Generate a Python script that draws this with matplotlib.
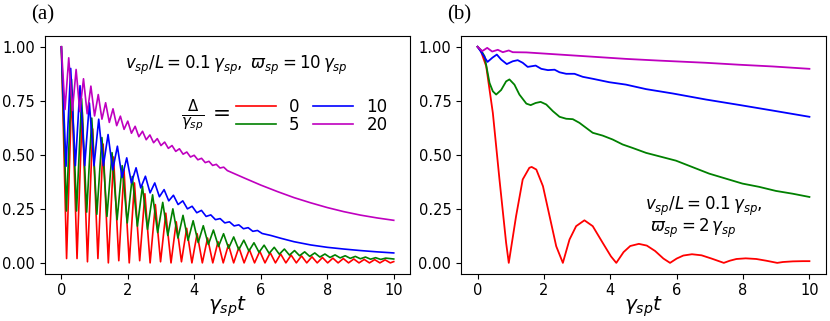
import numpy as np
import matplotlib.pyplot as plt

# ---------------- panel (a): v/L = 0.1, varpi = 10 ----------------
# red (Delta = 0): peaks every period, dips halfway in between
red_a_period = 0.3142
red_a_peak = [1.00, 0.80, 0.70, 0.62, 0.55, 0.49, 0.43, 0.37, 0.32, 0.27, 0.23, 0.19,
              0.16, 0.135, 0.115, 0.098, 0.084, 0.072, 0.062, 0.054, 0.047, 0.041,
              0.036, 0.032, 0.028, 0.025, 0.022, 0.020, 0.018, 0.016, 0.015, 0.014]
red_a_dip = [0.02, 0.02, 0.005, 0.02, 0.0, 0.01, 0.0, 0.01, 0.0, 0.005, 0.0, 0.005,
             0.0, 0.0, 0.0, 0.0, 0.0, 0.0, 0.0, 0.0, 0.0, 0.0, 0.0, 0.0, 0.0, 0.0,
             0.0, 0.0, 0.0, 0.0, 0.0, 0.0]
red_a_end = 0.006

# green (Delta = 5)
green_a_period = 0.305
green_a_peak = [1.0, 0.85, 0.76, 0.67, 0.58, 0.51, 0.45, 0.40, 0.355, 0.315, 0.28, 0.25,
                0.22, 0.195, 0.172, 0.152, 0.135, 0.12, 0.105, 0.093, 0.082, 0.072,
                0.064, 0.057, 0.051, 0.046, 0.041, 0.037, 0.033, 0.030, 0.027, 0.024, 0.022]
green_a_dip = [0.24, 0.24, 0.235, 0.225, 0.215, 0.20, 0.185, 0.17, 0.155, 0.14, 0.127,
               0.115, 0.104, 0.094, 0.085, 0.076, 0.068, 0.061, 0.055, 0.049, 0.044,
               0.040, 0.036, 0.033, 0.030, 0.027, 0.025, 0.023, 0.021, 0.019, 0.017, 0.016]
green_a_end = 0.018

# blue (Delta = 10)
blue_a_period = 0.281
blue_a_peak = [1.0, 0.90, 0.82, 0.74, 0.665, 0.594, 0.54, 0.486, 0.44, 0.401, 0.37,
               0.339, 0.313, 0.287, 0.262, 0.243, 0.222, 0.205, 0.19, 0.176, 0.163, 0.15]
blue_a_dip = [0.447, 0.45, 0.45, 0.45, 0.45, 0.43, 0.395, 0.37, 0.347, 0.324, 0.306,
              0.287, 0.27, 0.25, 0.232, 0.215, 0.20, 0.185, 0.171, 0.158, 0.146, 0.136]
blue_a_tail_t = [6.3, 6.6, 7.0, 7.5, 8.0, 8.5, 9.0, 9.5, 10.0]
blue_a_tail = [0.127, 0.114, 0.098, 0.083, 0.072, 0.064, 0.057, 0.051, 0.046]

# magenta (Delta = 20)
mag_a_period = 0.222
mag_a_peak = [1.0, 0.949, 0.895, 0.852, 0.818, 0.779, 0.741, 0.713, 0.679, 0.656, 0.632,
              0.609, 0.592, 0.575, 0.559, 0.543, 0.528, 0.513, 0.498, 0.484, 0.47, 0.456, 0.443]
mag_a_dip = [0.71, 0.705, 0.70, 0.69, 0.68, 0.665, 0.65, 0.635, 0.618, 0.60, 0.584, 0.57,
             0.556, 0.543, 0.53, 0.516, 0.503, 0.49, 0.477, 0.464, 0.451, 0.439, 0.427]
mag_a_tail_t = [5.5, 6.0, 6.5, 7.0, 7.5, 8.0, 8.5, 9.0, 9.5, 10.0]
mag_a_tail = [0.393, 0.36, 0.33, 0.302, 0.278, 0.256, 0.237, 0.221, 0.208, 0.197]

# ---------------- panel (b): v/L = 0.1, varpi = 2 ----------------
red_b_t = [0, 0.1, 0.26, 0.46, 0.66, 0.86, 0.94, 1.16, 1.36, 1.56, 1.63, 1.77, 1.97,
           2.17, 2.37, 2.57, 2.77, 2.97, 3.22, 3.47, 3.77, 4.02, 4.18, 4.4, 4.6, 4.86,
           5.1, 5.35, 5.6, 5.8, 6.0, 6.2, 6.46, 6.75, 7.05, 7.42, 7.6, 7.8, 8.08, 8.4,
           8.7, 9.03, 9.2, 9.5, 9.8, 10.0]
red_b = [1.0, 0.98, 0.91, 0.694, 0.386, 0.093, 0.0, 0.216, 0.386, 0.44, 0.444, 0.432,
         0.355, 0.216, 0.077, 0.0, 0.108, 0.17, 0.197, 0.17, 0.093, 0.03, 0.0, 0.05,
         0.078, 0.088, 0.08, 0.055, 0.02, 0.0, 0.02, 0.034, 0.04, 0.035, 0.02, 0.0,
         0.01, 0.018, 0.021, 0.018, 0.01, 0.0, 0.004, 0.007, 0.008, 0.008]

green_b_t = [0, 0.1, 0.21, 0.36, 0.46, 0.56, 0.71, 0.86, 0.96, 1.11, 1.26, 1.47, 1.6,
             1.75, 1.9, 2.07, 2.27, 2.47, 2.67, 2.87, 3.07, 3.27, 3.47, 3.77, 4.07,
             4.37, 4.67, 5.08, 5.48, 5.98, 6.48, 6.98, 7.48, 7.98, 8.48, 8.99, 9.5, 10.0]
green_b = [1.0, 0.985, 0.956, 0.833, 0.794, 0.779, 0.80, 0.84, 0.849, 0.825, 0.779,
           0.737, 0.73, 0.74, 0.745, 0.733, 0.702, 0.676, 0.667, 0.665, 0.648, 0.625,
           0.602, 0.589, 0.571, 0.548, 0.532, 0.509, 0.493, 0.473, 0.443, 0.413, 0.39,
           0.367, 0.352, 0.333, 0.32, 0.305]

blue_b_t = [0, 0.16, 0.3, 0.45, 0.58, 0.71, 0.88, 1.06, 1.21, 1.36, 1.51, 1.75, 1.92,
            2.12, 2.32, 2.47, 2.67, 2.92, 3.17, 3.47, 3.97, 4.47, 5.08, 5.88, 6.88,
            7.88, 8.89, 10.0]
blue_b = [1.0, 0.964, 0.93, 0.95, 0.964, 0.941, 0.92, 0.933, 0.938, 0.926, 0.907,
          0.913, 0.898, 0.892, 0.894, 0.882, 0.875, 0.875, 0.861, 0.852, 0.836, 0.825,
          0.804, 0.784, 0.756, 0.731, 0.705, 0.676]

mag_b_t = [0, 0.14, 0.29, 0.44, 0.61, 0.76, 0.94, 1.06, 1.47, 2.47, 3.47, 4.47, 5.48,
           6.88, 7.88, 8.89, 10.0]
mag_b = [1.0, 0.98, 0.995, 0.978, 0.986, 0.975, 0.983, 0.975, 0.974, 0.964, 0.954,
         0.944, 0.936, 0.926, 0.917, 0.909, 0.898]

deltas = ['0', '5', '10', '20']
colors = ['r', 'g', 'b', 'm']


def zigzag(period, peaks, dips, tail_t=None, tail=None, end=None):
    # peaks sit at k*period, dips half a period later
    tp = np.arange(len(peaks)) * period
    td = np.arange(len(dips)) * period + period / 2
    t = np.concatenate([tp, td])
    v = np.concatenate([peaks, dips])
    order = np.argsort(t)
    t, v = list(t[order]), list(v[order])
    if tail_t is not None:
        t += tail_t
        v += tail
    if end is not None:
        t.append(10.0)
        v.append(end)
    return t, v


plt.rcParams['font.size'] = 10
plt.rcParams['mathtext.fontset'] = 'dejavusans'

fig = plt.figure(figsize=(8.3, 3.21), dpi=100)
ax1 = fig.add_axes([0.0539, 0.1474, 0.4405, 0.7405])
ax2 = fig.add_axes([0.5554, 0.1474, 0.4398, 0.7405])

curves_a = [
    zigzag(red_a_period, red_a_peak, red_a_dip, end=red_a_end),
    zigzag(green_a_period, green_a_peak, green_a_dip, end=green_a_end),
    zigzag(blue_a_period, blue_a_peak, blue_a_dip, blue_a_tail_t, blue_a_tail),
    zigzag(mag_a_period, mag_a_peak, mag_a_dip, mag_a_tail_t, mag_a_tail),
]
for (t, v), c, d in zip(curves_a, colors, deltas):
    ax1.plot(t, v, color=c, lw=1.2, label=d)

curves_b = [(red_b_t, red_b), (green_b_t, green_b), (blue_b_t, blue_b), (mag_b_t, mag_b)]
for (t, v), c in zip(curves_b, colors):
    ax2.plot(t, v, color=c, lw=1.3)

for ax in (ax1, ax2):
    ax.set_xticks([0, 2, 4, 6, 8, 10])
    ax.set_yticks([0, 0.25, 0.5, 0.75, 1.0])
    ax.set_yticklabels(['0.00', '0.25', '0.50', '0.75', '1.00'])
    ax.tick_params(labelsize=10.5)
    ax.set_xlabel(r'$\gamma_{sp}t$', fontsize=14.5, labelpad=-3)

ax1.text(0.525, 0.878, r'$v_{sp}/L = 0.1\,\gamma_{sp},\ \varpi_{sp} = 10\,\gamma_{sp}$',
         transform=ax1.transAxes, ha='center', va='center', fontsize=12)
ax1.text(0.44, 0.665, r'$\frac{\Delta}{\gamma_{sp}}$ =', transform=ax1.transAxes,
         ha='center', va='center', fontsize=15.5)
ax1.legend(ncol=2, frameon=False, fontsize=12, loc='center left',
           bbox_to_anchor=(0.5, 0.665), handlelength=2.4, columnspacing=0.8,
           labelspacing=0.0, handletextpad=0.8, borderpad=0.0)

ax2.text(0.504, 0.282, r'$v_{sp}/L = 0.1\,\gamma_{sp},$', transform=ax2.transAxes,
         ha='left', va='center', fontsize=12)
ax2.text(0.518, 0.192, r'$\varpi_{sp} = 2\,\gamma_{sp}$', transform=ax2.transAxes,
         ha='left', va='center', fontsize=12)

fig.text(0.052, 0.955, '(a)', family='Liberation Serif', fontsize=15, ha='center', va='center')
fig.text(0.5535, 0.955, '(b)', family='Liberation Serif', fontsize=15, ha='center', va='center')

fig.savefig('out.png', dpi=100)
